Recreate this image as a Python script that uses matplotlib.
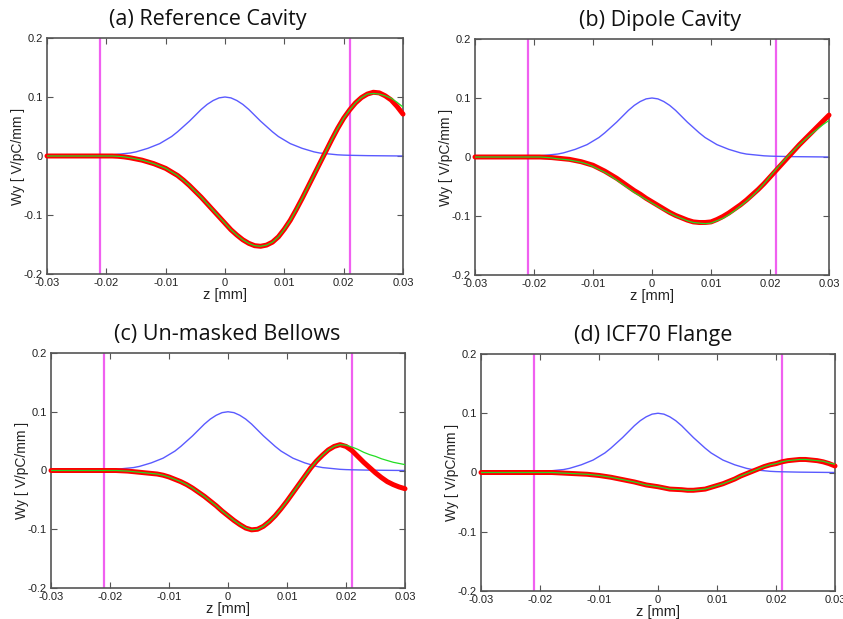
import matplotlib
matplotlib.use("Agg")
import matplotlib.pyplot as plt

# Longitudinal position along the bunch
z = [-0.030, -0.029, -0.028, -0.027, -0.026, -0.025, -0.024, -0.023, -0.022, -0.021,
     -0.020, -0.019, -0.018, -0.017, -0.016, -0.015, -0.014, -0.013, -0.012, -0.011,
     -0.010, -0.009, -0.008, -0.007, -0.006, -0.005, -0.004, -0.003, -0.002, -0.001,
     0.000, 0.001, 0.002, 0.003, 0.004, 0.005, 0.006, 0.007, 0.008, 0.009,
     0.010, 0.011, 0.012, 0.013, 0.014, 0.015, 0.016, 0.017, 0.018, 0.019,
     0.020, 0.021, 0.022, 0.023, 0.024, 0.025, 0.026, 0.027, 0.028, 0.029, 0.030]

# Bunch profile (same in every panel)
bunch = [0.0, 0.0001, 0.0002, 0.0003, 0.0004, 0.0005, 0.0006, 0.0008, 0.001, 0.0012,
         0.0015, 0.002, 0.003, 0.004, 0.005, 0.007, 0.010, 0.013, 0.017, 0.021,
         0.027, 0.033, 0.041, 0.050, 0.059, 0.069, 0.079, 0.0875, 0.094, 0.0985,
         0.100, 0.0985, 0.094, 0.0875, 0.079, 0.069, 0.059, 0.050, 0.041, 0.033,
         0.027, 0.021, 0.017, 0.013, 0.010, 0.007, 0.005, 0.004, 0.003, 0.002,
         0.0015, 0.0012, 0.001, 0.0008, 0.0006, 0.0005, 0.0004, 0.0003, 0.0002, 0.0001, 0.0]

# (a) Reference Cavity
wake_a_red = [0, 0, 0, 0, 0, 0, 0, 0, 0, 0,
              0, 0, -0.0005, -0.0015, -0.003, -0.005, -0.007, -0.010, -0.013, -0.017,
              -0.021, -0.027, -0.033, -0.041, -0.050, -0.060, -0.070, -0.081, -0.092, -0.103,
              -0.114, -0.125, -0.134, -0.142, -0.148, -0.152, -0.153, -0.151, -0.146, -0.137,
              -0.124, -0.109, -0.091, -0.072, -0.052, -0.032, -0.012, 0.008, 0.028, 0.047,
              0.064, 0.078, 0.090, 0.099, 0.105, 0.108, 0.107, 0.102, 0.095, 0.084, 0.071]
wake_a_green = [0, 0, 0, 0, 0, 0, 0, 0, 0, 0,
                0, 0, -0.0005, -0.0015, -0.003, -0.005, -0.007, -0.010, -0.013, -0.017,
                -0.021, -0.027, -0.033, -0.041, -0.050, -0.060, -0.070, -0.081, -0.092, -0.103,
                -0.114, -0.125, -0.134, -0.142, -0.148, -0.152, -0.153, -0.151, -0.146, -0.137,
                -0.124, -0.109, -0.091, -0.072, -0.052, -0.032, -0.012, 0.008, 0.028, 0.047,
                0.064, 0.078, 0.090, 0.099, 0.105, 0.106, 0.105, 0.102, 0.098, 0.091, 0.083]

# (b) Dipole Cavity
wake_b_red = [0, 0, 0, 0, 0, 0, 0, 0, 0, 0,
              0, 0, -0.0005, -0.001, -0.002, -0.003, -0.004, -0.006, -0.008, -0.011,
              -0.014, -0.019, -0.024, -0.030, -0.036, -0.043, -0.050, -0.057, -0.063, -0.070,
              -0.076, -0.082, -0.088, -0.094, -0.099, -0.103, -0.107, -0.110, -0.111, -0.111,
              -0.110, -0.106, -0.101, -0.095, -0.088, -0.081, -0.073, -0.064, -0.055, -0.045,
              -0.034, -0.023, -0.012, -0.001, 0.010, 0.021, 0.031, 0.041, 0.051, 0.061, 0.071]
wake_b_green = [0, 0, 0, 0, 0, 0, 0, 0, 0, 0,
                0, 0, -0.0007, -0.0015, -0.003, -0.004, -0.005, -0.007, -0.009, -0.012,
                -0.016, -0.021, -0.026, -0.032, -0.039, -0.046, -0.053, -0.060, -0.066, -0.072,
                -0.078, -0.084, -0.090, -0.095, -0.100, -0.104, -0.108, -0.111, -0.112, -0.113,
                -0.112, -0.108, -0.104, -0.098, -0.091, -0.083, -0.075, -0.066, -0.056, -0.045,
                -0.033, -0.021, -0.010, 0.001, 0.011, 0.021, 0.030, 0.039, 0.047, 0.055, 0.062]

# (c) Un-masked Bellows
wake_c_red = [0, 0, 0, 0, 0, 0, 0, 0, 0, 0,
              0, 0, -0.0005, -0.001, -0.002, -0.003, -0.004, -0.005, -0.006, -0.008,
              -0.011, -0.015, -0.019, -0.024, -0.030, -0.037, -0.044, -0.052, -0.060, -0.069,
              -0.077, -0.085, -0.092, -0.098, -0.101, -0.100, -0.095, -0.087, -0.077, -0.065,
              -0.052, -0.038, -0.024, -0.010, 0.004, 0.016, 0.026, 0.035, 0.041, 0.044,
              0.041, 0.034, 0.024, 0.014, 0.005, -0.004, -0.012, -0.019, -0.024, -0.028, -0.031]
wake_c_green = [0, 0, 0, 0, 0, 0, 0, 0, 0, 0,
                0, 0, -0.0005, -0.001, -0.002, -0.003, -0.004, -0.005, -0.006, -0.008,
                -0.011, -0.015, -0.019, -0.024, -0.030, -0.037, -0.044, -0.052, -0.060, -0.069,
                -0.077, -0.085, -0.092, -0.098, -0.101, -0.100, -0.095, -0.087, -0.077, -0.065,
                -0.052, -0.038, -0.024, -0.010, 0.004, 0.016, 0.026, 0.035, 0.041, 0.044,
                0.043, 0.040, 0.036, 0.031, 0.027, 0.024, 0.020, 0.017, 0.014, 0.012, 0.010]

# (d) ICF70 Flange
wake_d_red = [0, 0, 0, 0, 0, 0, 0, 0, 0, 0,
              0, 0, 0, -0.0005, -0.001, -0.0015, -0.002, -0.0025, -0.003, -0.004,
              -0.005, -0.0065, -0.008, -0.010, -0.012, -0.014, -0.016, -0.0185, -0.021, -0.0225,
              -0.024, -0.026, -0.028, -0.0285, -0.029, -0.030, -0.030, -0.029, -0.028, -0.025,
              -0.022, -0.019, -0.015, -0.011, -0.006, -0.002, 0.002, 0.006, 0.010, 0.013,
              0.015, 0.018, 0.020, 0.021, 0.022, 0.022, 0.021, 0.020, 0.018, 0.015, 0.011]
wake_d_green = [0, 0, 0, 0, 0, 0, 0, 0, 0, 0,
                0, 0, 0, -0.0005, -0.001, -0.0015, -0.002, -0.0025, -0.003, -0.004,
                -0.005, -0.0065, -0.008, -0.010, -0.012, -0.014, -0.016, -0.0185, -0.021, -0.0225,
                -0.024, -0.026, -0.028, -0.0285, -0.029, -0.030, -0.030, -0.029, -0.028, -0.025,
                -0.022, -0.019, -0.015, -0.011, -0.006, -0.002, 0.002, 0.006, 0.010, 0.013,
                0.015, 0.018, 0.020, 0.021, 0.022, 0.022, 0.021, 0.020, 0.019, 0.016, 0.014]

titles = ["(a) Reference Cavity", "(b) Dipole Cavity",
          "(c) Un-masked Bellows", "(d) ICF70 Flange"]
marker_z = [-0.021, 0.021]
x_ticks = [-0.03, -0.02, -0.01, 0, 0.01, 0.02, 0.03]
x_ticklabels = ["-0.03", "-0.02", "-0.01", "0", "0.01", "0.02", "0.03"]
y_ticks = [-0.2, -0.1, 0, 0.1, 0.2]
y_ticklabels = ["-0.2", "-0.1", "0", "0.1", "0.2"]

panels = [
    (wake_a_red, wake_a_green),
    (wake_b_red, wake_b_green),
    (wake_c_red, wake_c_green),
    (wake_d_red, wake_d_green),
]

W, H = 843, 619
# axes boxes in pixels: left, top, right, bottom
boxes = [(47, 38, 403, 274), (475, 39, 829, 275),
         (51, 353, 405, 588), (481, 354, 835, 591)]
title_x = [0.452, 0.523, 0.497, 0.486]

plt.rcParams['font.family'] = ['Liberation Sans', 'DejaVu Sans']

fig = plt.figure(figsize=(W / 100, H / 100), dpi=100)

for i, ((red, green), box) in enumerate(zip(panels, boxes)):
    l, t, r, b = box
    ax = fig.add_axes([l / W, 1 - b / H, (r - l) / W, (b - t) / H])
    for zz in marker_z:
        ax.axvline(zz, color='#f060f0', lw=1.6, zorder=1)
    ax.plot(z, bunch, color='#5a5aff', lw=1.0, zorder=2)
    ax.plot(z, red, color='#ff0000', lw=3.6, solid_capstyle='round',
            solid_joinstyle='round', zorder=3, clip_on=False)
    ax.plot(z, green, color='#22dd22', lw=0.9, zorder=4)
    ax.set_xlim(-0.03, 0.03)
    ax.set_ylim(-0.2, 0.2)
    ax.set_xticks(x_ticks)
    ax.set_xticklabels(x_ticklabels)
    ax.set_yticks(y_ticks)
    ax.set_yticklabels(y_ticklabels)
    ax.tick_params(direction='in', top=True, right=True, length=4, width=0.8,
                   labelsize=8, colors='#555555', labelcolor='#222222', pad=3)
    for s in ax.spines.values():
        s.set_color('#555555')
        s.set_linewidth(1.2)
    ax.set_xlabel('z [mm]', fontsize=10.5, color='#222222', labelpad=0)
    ax.set_ylabel('Wy [ V/pC/mm ]', fontsize=10, color='#222222', labelpad=-1)
    ax.text(title_x[i], 1.035, titles[i], transform=ax.transAxes,
            ha='center', va='bottom', fontsize=15.5, color='#111111',
            family=['Open Sans', 'DejaVu Sans'])

fig.savefig('out.png', dpi=100)
